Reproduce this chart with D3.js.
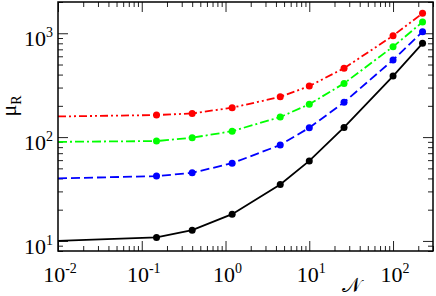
<!DOCTYPE html>
<html>
<head>
<meta charset="utf-8">
<script src="https://cdn.jsdelivr.net/npm/d3@7"></script>
<style>
  body { margin: 0; background: #fff; }
  svg { display: block; }
  .lbl { font-family: "Liberation Serif", "DejaVu Serif", serif; fill: #000; }
</style>
</head>
<body>
<div id="chart"></div>
<script>
//Data (N on x, mu_R on y)
//first point (N = 0.01) has no marker, the curves just start at the left edge
let nValues = [0.01, 0.15, 0.4, 1.2, 4.5, 10, 26, 100, 225];
let blackVals = [10, 10.8, 12.7, 18.1, 35, 59, 124, 387, 800];
let blueVals = [40, 42.1, 45.3, 56, 84, 123, 216, 553, 1035];
let greenVals = [90, 91.6, 98.6, 114, 156, 207, 329, 742, 1283];
let redVals = [158, 163, 169, 192, 244, 310, 460, 947, 1556];

let xMajor = [0.01, 0.1, 1, 10, 100];
let xExp = ["-2", "-1", "0", "1", "2"];
let yMajor = [10, 100, 1000];
let yExp = ["1", "2", "3"];

let series = [
  { vals: blackVals, color: "#000000", dash: null },
  { vals: blueVals, color: "#0000ff", dash: "9,4" },
  { vals: greenVals, color: "#00ff00", dash: "9,3,2,3" },
  { vals: redVals, color: "#ff0000", dash: "8,3,2,3,2,3" },
];

//Set width and height of the chart
let W = 436, H = 296;
let margin = { top: 2, right: 3, bottom: 45, left: 58 },
  width = W - margin.left - margin.right,
  height = H - margin.top - margin.bottom;

let xScale = d3.scaleLog().domain([0.01, 300]).range([0, width]);
let yScale = d3.scaleLog().domain([8, 2000]).range([height, 0]);

//minor ticks 2..9 of every decade inside the domain
function minors(scale) {
  let [a, b] = scale.domain();
  let out = [];
  for (let e = Math.floor(Math.log10(a)); e <= Math.ceil(Math.log10(b)); e++) {
    for (let m = 2; m <= 9; m++) {
      let v = m * Math.pow(10, e);
      if (v >= a && v <= b) out.push(v);
    }
  }
  return out;
}

let svg = d3
  .select("#chart")
  .append("svg")
  .attr("width", W)
  .attr("height", H)
  .append("g")
  .attr("transform", "translate(" + margin.left + "," + margin.top + ")");

svg.append("clipPath").attr("id", "clip")
  .append("rect").attr("width", width).attr("height", height);

// Ticks on all four sides, pointing inward
function tickAxis(axisFn, scale, values, size, transform) {
  let g = svg.append("g")
    .attr("transform", transform)
    .call(axisFn(scale).tickValues(values).tickSize(size).tickFormat(""));
  g.select(".domain").remove();
  g.selectAll("line").attr("stroke", "#222").attr("stroke-width", 1);
}
tickAxis(d3.axisBottom, xScale, xMajor, -10, "translate(0," + height + ")");
tickAxis(d3.axisBottom, xScale, minors(xScale), -5, "translate(0," + height + ")");
tickAxis(d3.axisTop, xScale, xMajor, -10, "translate(0,0)");
tickAxis(d3.axisTop, xScale, minors(xScale), -5, "translate(0,0)");
tickAxis(d3.axisLeft, yScale, yMajor, -10, "translate(0,0)");
tickAxis(d3.axisLeft, yScale, minors(yScale), -5, "translate(0,0)");
tickAxis(d3.axisRight, yScale, yMajor, -10, "translate(" + width + ",0)");
tickAxis(d3.axisRight, yScale, minors(yScale), -5, "translate(" + width + ",0)");

// Lines and markers
let line = d3.line()
  .x(function (d) { return xScale(d[0]); })
  .y(function (d) { return yScale(d[1]); });

let plot = svg.append("g").attr("clip-path", "url(#clip)");
series.forEach(function (s) {
  let pts = nValues.map(function (n, i) { return [n, s.vals[i]]; });
  plot.append("path")
    .datum(pts)
    .attr("d", line)
    .attr("fill", "none")
    .attr("stroke", s.color)
    .attr("stroke-width", 1.8)
    .attr("stroke-dasharray", s.dash);
  svg.append("g")
    .selectAll("circle")
    .data(pts.slice(1))
    .enter()
    .append("circle")
    .attr("cx", function (d) { return xScale(d[0]); })
    .attr("cy", function (d) { return yScale(d[1]); })
    .attr("r", 3.5)
    .attr("fill", s.color);
});

// Frame
svg.append("rect")
  .attr("width", width)
  .attr("height", height)
  .attr("fill", "none")
  .attr("stroke", "#000")
  .attr("stroke-width", 1.5);

// Tick labels 10^n
let xl = svg.append("g").selectAll("text")
  .data(xMajor)
  .enter()
  .append("text")
  .attr("class", "lbl")
  .attr("x", function (d) { return xScale(d) + 2; })
  .attr("y", height + 31)
  .attr("text-anchor", "middle")
  .style("font-size", "22px");
xl.append("tspan").text("10");
xl.append("tspan").attr("dy", -9).style("font-size", "14px")
  .text(function (d, i) { return xExp[i]; });

let yl = svg.append("g").selectAll("text")
  .data(yMajor)
  .enter()
  .append("text")
  .attr("class", "lbl")
  .attr("x", -5)
  .attr("y", function (d) { return yScale(d) + 13; })
  .attr("text-anchor", "end")
  .style("font-size", "22px");
yl.append("tspan").text("10");
yl.append("tspan").attr("dy", -9).style("font-size", "14px")
  .text(function (d, i) { return yExp[i]; });

// Axis titles
let yt = svg.append("text")
  .attr("class", "lbl")
  .attr("transform", "translate(" + (-42) + "," + 104 + ") rotate(-90)")
  .attr("text-anchor", "middle")
  .style("font-size", "22px");
yt.append("tspan").text("\u03bc");
yt.append("tspan").attr("dy", 5).style("font-size", "14px").text("R");

svg.append("text")
  .attr("class", "lbl")
  .attr("x", 293)
  .attr("y", 290)
  .attr("text-anchor", "middle")
  .style("font-family", "'DejaVu Sans', 'DejaVu Serif', serif")
  .style("font-size", "20px")
  .text("\ud835\udca9");
</script>
</body>
</html>
